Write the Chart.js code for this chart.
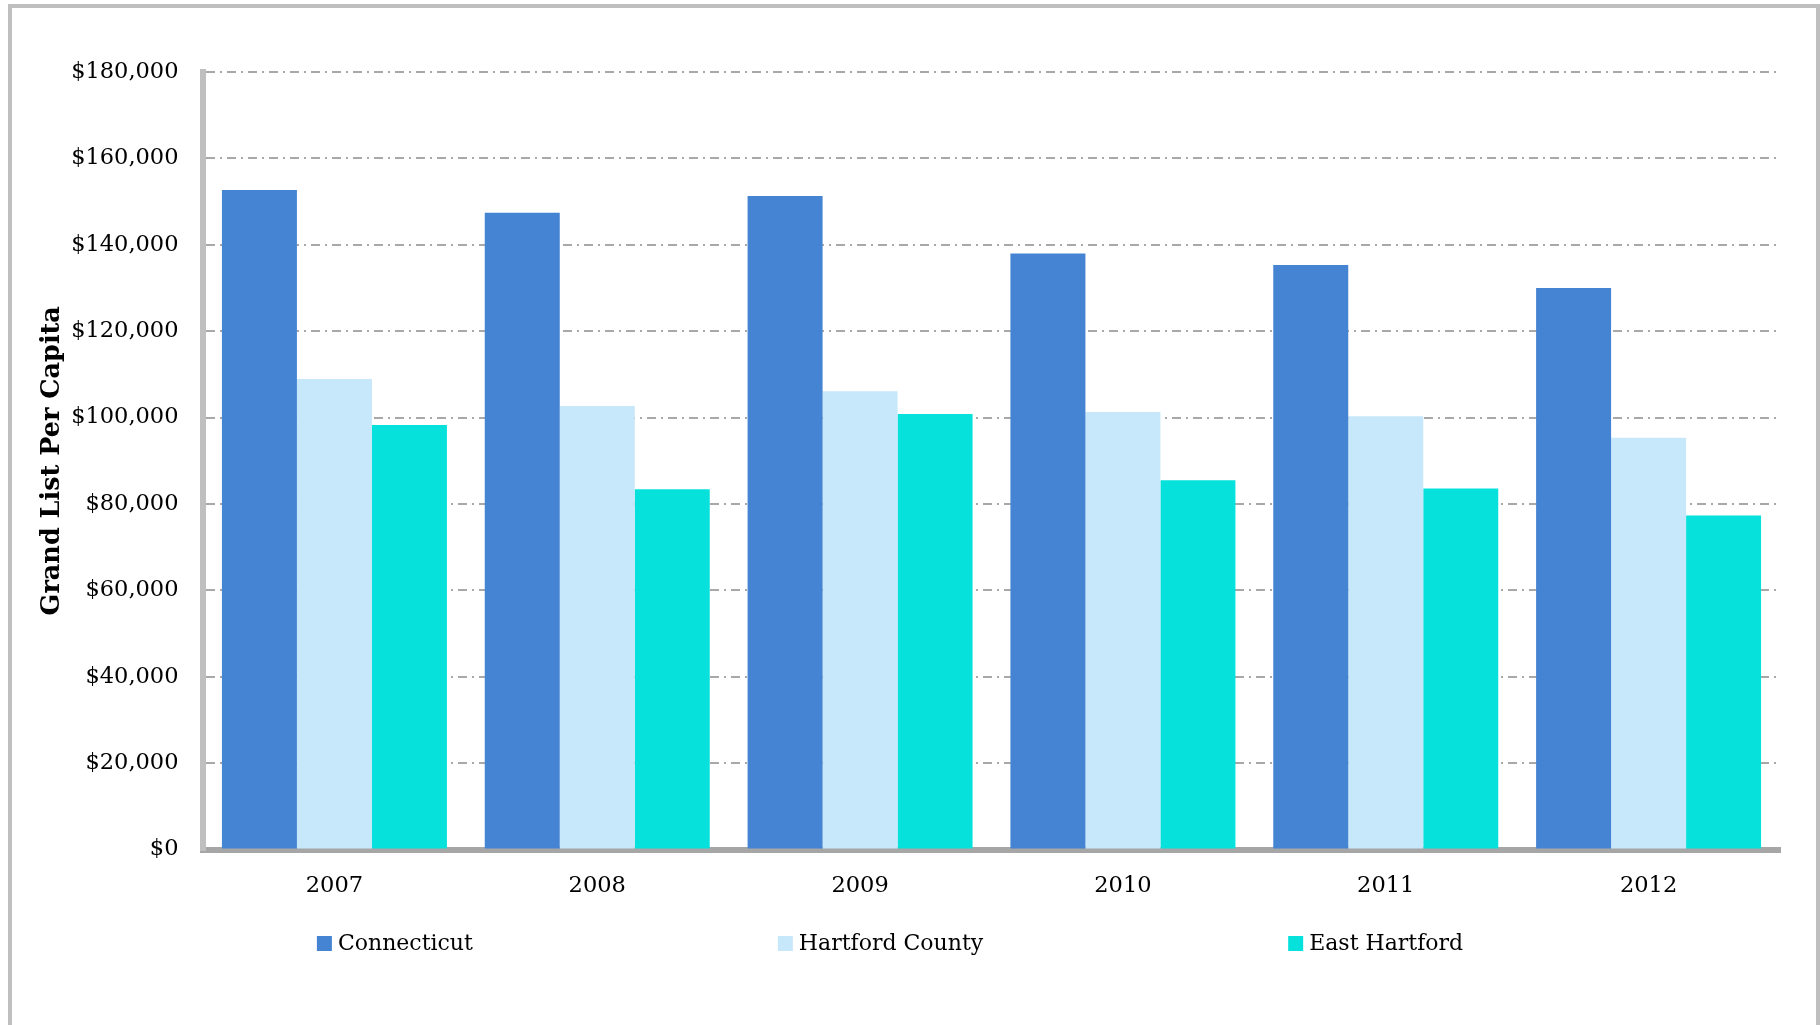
<!DOCTYPE html>
<html>
<head>
<meta charset="utf-8">
<script src="https://cdn.jsdelivr.net/npm/chart.js@4"></script>
<style>
  html, body { margin: 0; padding: 0; background: #ffffff; width: 1820px; height: 1025px; overflow: hidden; }
  #frame { position: absolute; left: 8px; top: 4px; width: 1812px; height: 1040px; border: 4px solid #bfbfbf; box-sizing: border-box; }
  #wrap { position: absolute; left: 0; top: 0; width: 1820px; height: 1025px; }
</style>
</head>
<body>
<div id="frame"></div>
<div id="wrap"><canvas id="c" width="1820" height="1025"></canvas></div>
<script>
const categories = ['2007', '2008', '2009', '2010', '2011', '2012'];
const seriesNames = ['Connecticut', 'Hartford County', 'East Hartford'];
const connecticut = [152700, 147400, 151300, 138000, 135300, 130000];
const hartfordCounty = [108900, 102700, 106100, 101300, 100300, 95300];
const eastHartford = [98300, 83400, 100800, 85500, 83600, 77300];
const yTicks = { min: 0, max: 180000, step: 20000 };
const yTitle = 'Grand List Per Capita';
const colors = ['#4584d3', '#c7e7fa', '#06e1db'];

const FONT = "'DejaVu Serif', 'Liberation Serif', serif";

const legendPlugin = {
  id: 'customLegend',
  afterDraw(chart) {
    const ctx = chart.ctx;
    const ca = chart.chartArea;
    ctx.save();
    ctx.font = "22px " + FONT;
    ctx.textBaseline = 'middle';
    ctx.textAlign = 'left';
    const box = 15, gapText = 6, gapItem = 305;
    const items = chart.data.datasets.map(d => ({ text: d.label, color: d.backgroundColor, w: box + gapText + ctx.measureText(d.label).width }));
    const total = items.reduce((s, it) => s + it.w, 0) + gapItem * (items.length - 1);
    let x = (0 + ca.right) / 2 - total / 2;
    const y = 943.5;
    items.forEach(it => {
      ctx.fillStyle = it.color;
      ctx.fillRect(x, y - box / 2, box, box);
      ctx.fillStyle = '#000000';
      ctx.fillText(it.text, x + box + gapText, y + 1);
      x += it.w + gapItem;
    });
    ctx.restore();
  }
};

new Chart(document.getElementById('c'), {
  type: 'bar',
  data: {
    labels: categories,
    datasets: [
      { label: seriesNames[0], data: connecticut, backgroundColor: colors[0] },
      { label: seriesNames[1], data: hartfordCounty, backgroundColor: colors[1] },
      { label: seriesNames[2], data: eastHartford, backgroundColor: colors[2] }
    ]
  },
  options: {
    responsive: false,
    animation: false,
    layout: { padding: { top: 72, right: 40, bottom: 0, left: 0 } },
    datasets: { bar: { categoryPercentage: 0.856, barPercentage: 1.0, borderWidth: 0 } },
    plugins: { legend: { display: false }, tooltip: { enabled: false } },
    scales: {
      x: {
        grid: { display: false, drawTicks: false },
        border: { display: true, color: '#a6a6a6', width: 6 },
        ticks: { color: '#000000', font: { family: FONT, size: 22.5 }, padding: 23 },
        afterFit(scale) { scale.height = 175.5; }
      },
      y: {
        min: yTicks.min, max: yTicks.max,
        grid: { color: '#a8a8a8', lineWidth: 2, drawTicks: false },
        border: { display: true, color: '#bfbfbf', width: 6, dash: [9, 5, 2, 5] },
        ticks: {
          stepSize: yTicks.step,
          color: '#000000',
          font: { family: FONT, size: 22.5 },
          padding: 24.5,
          callback: v => '$' + Number(v).toLocaleString('en-US')
        },
        title: { display: true, text: yTitle, color: '#000000', font: { family: FONT, size: 25.5, weight: 'bold' }, padding: { top: 37, bottom: 0 } },
        afterFit(scale) { scale.width = 203; }
      }
    }
  },
  plugins: [legendPlugin]
});
</script>
</body>
</html>
